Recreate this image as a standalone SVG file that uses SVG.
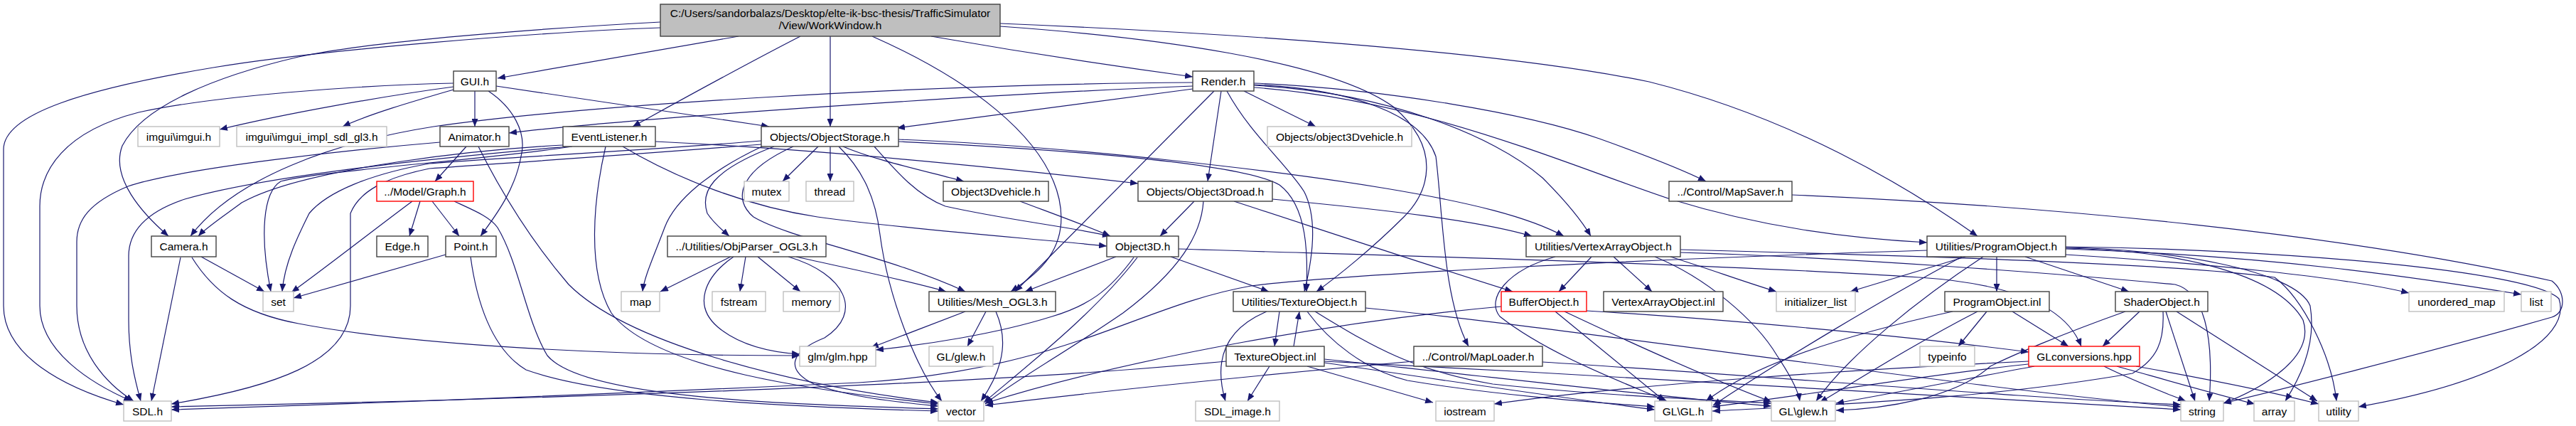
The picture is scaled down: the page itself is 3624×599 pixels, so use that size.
<svg xmlns="http://www.w3.org/2000/svg" width="3624" height="599" viewBox="0 0 3624 599">
<style>
.n rect{fill:#fff;stroke:#404040;stroke-width:1.4}
.x rect{fill:#fff;stroke:#bfbfbf;stroke-width:1.4}
.r rect{fill:#fff;stroke:#ff0000;stroke-width:1.4}
.rt rect{fill:#bfbfbf;stroke:#404040;stroke-width:1.4}
text{font-family:"Liberation Sans",Arial,Helvetica,sans-serif;font-size:15.5px;fill:#000;text-anchor:middle}
#edges path{fill:none;stroke:#191970;stroke-width:1.2;marker-end:url(#a)}
</style>
<defs>
<marker id="a" markerWidth="11" markerHeight="9" refX="11" refY="4.5" orient="auto" markerUnits="userSpaceOnUse"><path d="M0,0 L11,4.5 L0,9 z" fill="#191970"/></marker>
</defs>
<rect width="3624" height="599" fill="#fff"/>
<g id="edges">
<path d="M1039,51 C900,75 780,95 700,110"/>
<path d="M1310,51 C1430,72 1560,92 1678,108"/>
<path d="M1126,51 C1040,95 950,145 890,178"/>
<path d="M1168,51 L1168,178"/>
<path d="M929,31 C760,40 520,58 420,80 C300,108 200,150 172,205 C155,250 200,300 237,332"/>
<path d="M929,39 C760,45 450,70 300,95 C120,125 5,160 5,210 L5,430 C5,500 90,545 174,569"/>
<path d="M1227,51 C1360,110 1470,190 1490,280 C1505,350 1460,385 1422,410"/>
<path d="M1407,37 C1620,52 1870,85 1960,150 C2030,210 2010,270 1975,305 C1930,350 1880,390 1852,410"/>
<path d="M1407,33 C1700,45 2100,70 2320,115 C2520,165 2680,260 2782,332"/>
<path d="M638,122 C540,135 400,160 309,182"/>
<path d="M638,126 C590,140 520,160 482,178"/>
<path d="M668,128 L668,178"/>
<path d="M698,121 L1082,178"/>
<path d="M638,117 C500,120 300,135 195,158 C90,185 56,240 56,290 L56,430 C56,495 130,540 185,564"/>
<path d="M687,128 C720,150 742,185 733,220 C725,265 700,300 676,332"/>
<path d="M1678,125 L1262,180"/>
<path d="M1678,121 C1400,132 900,165 716,187"/>
<path d="M1678,116 C1300,118 820,148 610,178 C470,200 330,250 268,332"/>
<path d="M1750,128 L1851,178"/>
<path d="M1764,117 C1950,125 2150,160 2250,195 C2320,220 2370,240 2400,255"/>
<path d="M1708,128 L1428,410"/>
<path d="M1718,128 L1699,255"/>
<path d="M1764,120 C1950,130 2100,190 2170,250 C2200,280 2225,310 2238,332"/>
<path d="M1764,123 C2000,140 2200,230 2350,280 C2480,320 2600,335 2711,341"/>
<path d="M1726,128 C1760,190 1810,230 1835,270 C1855,310 1845,370 1835,410"/>
<path d="M1764,119 C1900,125 2000,160 2020,220 C2030,300 2030,420 2066,487"/>
<path d="M1151,206 L1101,255"/>
<path d="M1168,206 L1168,255"/>
<path d="M1186,206 C1230,225 1300,240 1356,255"/>
<path d="M1089,206 C1000,240 985,270 995,300 C1005,315 1018,325 1026,332"/>
<path d="M1072,206 C1000,240 950,280 935,320 C920,360 906,390 904,410"/>
<path d="M1116,206 C1040,240 1030,280 1060,305 C1110,335 1250,360 1358,410"/>
<path d="M1071,198 C900,212 700,222 604,230 C520,245 460,270 435,300 C420,330 400,370 397,410"/>
<path d="M1071,203 C900,217 700,230 604,237 C540,250 505,270 493,300 L493,430 C493,510 380,545 241,568"/>
<path d="M1180,206 C1215,240 1232,280 1238,330 C1250,420 1290,520 1325,564"/>
<path d="M1230,206 C1260,240 1290,275 1330,290 C1420,310 1500,318 1562,332"/>
<path d="M1264,199 C1500,210 1750,230 1800,260 C1840,290 1840,360 1838,410"/>
<path d="M1264,196 C1500,205 1800,240 1950,265 C2070,285 2150,305 2200,332"/>
<path d="M792,204 C680,210 430,235 340,285 C320,300 290,320 279,332"/>
<path d="M800,206 C700,215 400,240 260,280 C200,300 181,330 181,360 L181,450 C181,500 190,535 198,564"/>
<path d="M805,206 C680,225 450,240 395,255 C370,270 365,330 381,410"/>
<path d="M852,206 C835,280 825,380 860,440 C920,520 1150,550 1320,568"/>
<path d="M876,206 C950,250 1050,290 1150,305 C1300,325 1450,335 1557,346"/>
<path d="M922,199 C1150,210 1400,235 1601,258"/>
<path d="M656,206 L612,255"/>
<path d="M673,206 C700,260 740,330 800,400 C880,480 1100,540 1320,566"/>
<path d="M619,200 C500,210 260,235 180,262 C125,285 108,310 108,340 L108,430 C108,495 150,540 188,564"/>
<path d="M591,283 L576,332"/>
<path d="M608,283 L646,332"/>
<path d="M580,283 C530,320 460,375 410,411"/>
<path d="M639,283 C665,295 690,305 700,320 C730,370 740,450 770,500 C820,560 1100,568 1320,575"/>
<path d="M627,358 L413,419"/>
<path d="M662,361 C670,420 690,490 740,520 C850,560 1100,572 1320,578"/>
<path d="M283,361 L372,410"/>
<path d="M254,362 L213,564"/>
<path d="M270,362 C300,410 340,440 420,455 C550,480 800,500 1125,500"/>
<path d="M1028,361 L929,410"/>
<path d="M1049,361 L1041,410"/>
<path d="M1066,361 L1126,410"/>
<path d="M1032,361 C990,390 975,430 1010,460 C1040,485 1080,495 1125,498"/>
<path d="M1109,361 C1190,385 1215,440 1160,475 C1110,495 1105,520 1145,540 C1200,560 1270,566 1320,571"/>
<path d="M1120,361 C1180,375 1260,390 1331,410"/>
<path d="M1358,438 L1225,489"/>
<path d="M1387,438 L1361,487"/>
<path d="M1401,438 C1415,470 1418,510 1380,564"/>
<path d="M1570,361 L1442,410"/>
<path d="M1647,361 L1785,410"/>
<path d="M1595,362 C1560,410 1530,430 1480,445 C1400,470 1300,485 1232,492"/>
<path d="M1600,362 C1540,440 1450,510 1384,566"/>
<path d="M1658,350 C1900,358 2400,370 2700,390 C2850,400 2910,440 2928,487"/>
<path d="M1435,283 C1480,300 1530,318 1562,332"/>
<path d="M1680,283 L1632,332"/>
<path d="M1693,283 C1690,330 1660,380 1580,440 C1500,495 1420,540 1386,568"/>
<path d="M1790,280 C1950,295 2080,310 2155,332"/>
<path d="M1736,283 C1850,320 2000,370 2128,410"/>
<path d="M2239,361 L2193,410"/>
<path d="M2270,361 L2324,410"/>
<path d="M2188,361 C2120,380 2090,420 2110,445 C2180,500 2290,540 2345,564"/>
<path d="M2350,361 C2410,380 2450,395 2499,410"/>
<path d="M2328,361 C2400,390 2470,450 2500,500 C2520,530 2530,550 2532,564"/>
<path d="M2364,355 C2600,362 2900,385 3060,400 C3100,410 3115,470 3108,564"/>
<path d="M2364,351 C2700,360 3050,370 3200,390 C3240,420 3280,500 3287,564"/>
<path d="M2809,361 L2809,410"/>
<path d="M2849,361 L2995,410"/>
<path d="M2765,361 L2603,410"/>
<path d="M2790,361 C2700,420 2600,500 2555,564"/>
<path d="M2760,361 C2650,420 2500,510 2410,570"/>
<path d="M2906,358 C3100,370 3300,390 3389,412"/>
<path d="M2906,350 C3200,360 3400,390 3547,414"/>
<path d="M2906,347 C3200,350 3560,380 3600,420 C3620,480 3500,540 3318,572"/>
<path d="M2906,348 C3050,350 3230,380 3250,430 C3260,490 3230,540 3215,564"/>
<path d="M2906,349 C3050,352 3200,380 3240,450 C3260,510 3160,555 3128,567"/>
<path d="M2711,352 C2300,365 1900,385 1760,402 C1600,430 1500,520 1208,538 C900,552 600,565 241,576"/>
<path d="M2795,438 L2755,487"/>
<path d="M2831,438 L2910,487"/>
<path d="M2782,438 C2700,480 2620,530 2560,566"/>
<path d="M2747,438 C2600,470 2470,510 2400,564"/>
<path d="M3010,438 L2958,487"/>
<path d="M2990,438 C2900,470 2830,500 2800,515 C2750,560 2650,575 2583,577"/>
<path d="M3047,438 L3088,564"/>
<path d="M3062,438 L3260,564"/>
<path d="M3043,438 C3045,480 3035,505 3000,525 C2800,560 2600,568 2409,578"/>
<path d="M2862,515 C2780,530 2680,550 2583,567"/>
<path d="M2862,511 C2700,528 2550,555 2409,572"/>
<path d="M2960,515 C3000,535 3040,550 3075,564"/>
<path d="M2978,515 C3050,535 3120,555 3172,568"/>
<path d="M3005,515 C3100,532 3200,552 3262,568"/>
<path d="M2854,508 C2600,520 2300,540 2102,568"/>
<path d="M1800,438 L1793,487"/>
<path d="M1820,487 L1828,438"/>
<path d="M1782,438 C1730,460 1705,500 1724,564"/>
<path d="M1839,438 C1870,480 1920,520 1980,535 C2100,555 2230,565 2328,572"/>
<path d="M1850,438 C1920,480 1980,520 2100,540 C2250,556 2400,562 2492,567"/>
<path d="M1921,433 C2200,460 2800,550 3068,572"/>
<path d="M2112,431 C1900,450 1600,500 1386,567"/>
<path d="M2188,438 L2342,564"/>
<path d="M2201,438 C2290,480 2400,530 2492,565"/>
<path d="M2232,437 C2450,450 2700,475 2854,495"/>
<path d="M1786,515 L1755,564"/>
<path d="M1725,508 C1400,540 800,560 241,572"/>
<path d="M1839,515 L2016,566"/>
<path d="M1863,510 C2000,530 2200,560 2328,576"/>
<path d="M1863,505 C2100,530 2350,560 2492,571"/>
<path d="M1863,508 C2300,530 2800,560 3068,576"/>
<path d="M1989,508 C1800,525 1550,550 1386,570"/>
<path d="M2170,509 C2500,530 2850,560 3068,569"/>
<path d="M2521,274 C2900,290 3300,330 3590,395 C3610,410 3610,440 3590,446 C3400,500 3200,550 3128,567"/>
</g>
<g id="root" class="rt"><rect x="929" y="6" width="478" height="45"/><text x="1168" y="24">C:/Users/sandorbalazs/Desktop/elte-ik-bsc-thesis/TrafficSimulator</text><text x="1168" y="40.5">/View/WorkWindow.h</text></g>
<g id="gui" class="n"><rect x="638" y="100" width="60" height="28"/><text x="668" y="119.5">GUI.h</text></g>
<g id="render" class="n"><rect x="1678" y="100" width="86" height="28"/><text x="1721" y="119.5">Render.h</text></g>
<g id="imgui" class="x"><rect x="194" y="178" width="115" height="28"/><text x="251.5" y="197.5">imgui\imgui.h</text></g>
<g id="imgui_impl" class="x"><rect x="333" y="178" width="211" height="28"/><text x="438.5" y="197.5">imgui\imgui_impl_sdl_gl3.h</text></g>
<g id="animator" class="n"><rect x="619" y="178" width="97" height="28"/><text x="667.5" y="197.5">Animator.h</text></g>
<g id="eventlistener" class="n"><rect x="792" y="178" width="130" height="28"/><text x="857" y="197.5">EventListener.h</text></g>
<g id="objectstorage" class="n"><rect x="1071" y="178" width="193" height="28"/><text x="1167.5" y="197.5">Objects/ObjectStorage.h</text></g>
<g id="object3dvehicle_lc" class="x"><rect x="1783" y="178" width="203" height="28"/><text x="1884.5" y="197.5">Objects/object3Dvehicle.h</text></g>
<g id="graph" class="r"><rect x="530" y="255" width="136" height="28"/><text x="598" y="274.5">../Model/Graph.h</text></g>
<g id="mutex" class="x"><rect x="1047" y="255" width="63" height="28"/><text x="1078.5" y="274.5">mutex</text></g>
<g id="thread" class="x"><rect x="1134" y="255" width="67" height="28"/><text x="1167.5" y="274.5">thread</text></g>
<g id="object3dvehicle" class="n"><rect x="1327" y="255" width="148" height="28"/><text x="1401" y="274.5">Object3Dvehicle.h</text></g>
<g id="object3droad" class="n"><rect x="1601" y="255" width="189" height="28"/><text x="1695.5" y="274.5">Objects/Object3Droad.h</text></g>
<g id="mapsaver" class="n"><rect x="2348" y="255" width="173" height="28"/><text x="2434.5" y="274.5">../Control/MapSaver.h</text></g>
<g id="camera" class="n"><rect x="213" y="332" width="91" height="29"/><text x="258.5" y="352">Camera.h</text></g>
<g id="edge" class="n"><rect x="530" y="332" width="72" height="29"/><text x="566" y="352">Edge.h</text></g>
<g id="point" class="n"><rect x="627" y="332" width="71" height="29"/><text x="662.5" y="352">Point.h</text></g>
<g id="objparser" class="n"><rect x="939" y="332" width="223" height="29"/><text x="1050.5" y="352">../Utilities/ObjParser_OGL3.h</text></g>
<g id="object3d" class="n"><rect x="1557" y="332" width="101" height="29"/><text x="1607.5" y="352">Object3D.h</text></g>
<g id="vao" class="n"><rect x="2147" y="332" width="217" height="29"/><text x="2255.5" y="352">Utilities/VertexArrayObject.h</text></g>
<g id="programobject" class="n"><rect x="2711" y="332" width="195" height="29"/><text x="2808.5" y="352">Utilities/ProgramObject.h</text></g>
<g id="set" class="x"><rect x="370" y="410" width="43" height="28"/><text x="391.5" y="429.5">set</text></g>
<g id="map" class="x"><rect x="874" y="410" width="54" height="28"/><text x="901" y="429.5">map</text></g>
<g id="fstream" class="x"><rect x="1002" y="410" width="75" height="28"/><text x="1039.5" y="429.5">fstream</text></g>
<g id="memory" class="x"><rect x="1102" y="410" width="79" height="28"/><text x="1141.5" y="429.5">memory</text></g>
<g id="mesh" class="n"><rect x="1307" y="410" width="178" height="28"/><text x="1396" y="429.5">Utilities/Mesh_OGL3.h</text></g>
<g id="textureobject" class="n"><rect x="1735" y="410" width="186" height="28"/><text x="1828" y="429.5">Utilities/TextureObject.h</text></g>
<g id="bufferobject" class="r"><rect x="2112" y="410" width="120" height="28"/><text x="2172" y="429.5">BufferObject.h</text></g>
<g id="vao_inl" class="n"><rect x="2256" y="410" width="168" height="28"/><text x="2340" y="429.5">VertexArrayObject.inl</text></g>
<g id="initializer_list" class="x"><rect x="2499" y="410" width="111" height="28"/><text x="2554.5" y="429.5">initializer_list</text></g>
<g id="programobject_inl" class="n"><rect x="2736" y="410" width="147" height="28"/><text x="2809.5" y="429.5">ProgramObject.inl</text></g>
<g id="shaderobject" class="n"><rect x="2976" y="410" width="130" height="28"/><text x="3041" y="429.5">ShaderObject.h</text></g>
<g id="unordered_map" class="x"><rect x="3389" y="410" width="134" height="28"/><text x="3456" y="429.5">unordered_map</text></g>
<g id="list" class="x"><rect x="3547" y="410" width="42" height="28"/><text x="3568" y="429.5">list</text></g>
<g id="glm" class="x"><rect x="1125" y="487" width="107" height="28"/><text x="1178.5" y="506.5">glm/glm.hpp</text></g>
<g id="gl_glew_fwd" class="x"><rect x="1307" y="487" width="90" height="28"/><text x="1352" y="506.5">GL/glew.h</text></g>
<g id="textureobject_inl" class="n"><rect x="1725" y="487" width="138" height="28"/><text x="1794" y="506.5">TextureObject.inl</text></g>
<g id="maploader" class="n"><rect x="1989" y="487" width="181" height="28"/><text x="2079.5" y="506.5">../Control/MapLoader.h</text></g>
<g id="typeinfo" class="x"><rect x="2701" y="487" width="77" height="28"/><text x="2739.5" y="506.5">typeinfo</text></g>
<g id="glconversions" class="r"><rect x="2854" y="487" width="156" height="28"/><text x="2932" y="506.5">GLconversions.hpp</text></g>
<g id="sdl" class="x"><rect x="174" y="564" width="67" height="28"/><text x="207.5" y="583.5">SDL.h</text></g>
<g id="vector" class="x"><rect x="1320" y="564" width="64" height="28"/><text x="1352" y="583.5">vector</text></g>
<g id="sdl_image" class="x"><rect x="1682" y="564" width="118" height="28"/><text x="1741" y="583.5">SDL_image.h</text></g>
<g id="iostream" class="x"><rect x="2020" y="564" width="82" height="28"/><text x="2061" y="583.5">iostream</text></g>
<g id="gl_gl" class="x"><rect x="2328" y="564" width="80" height="28"/><text x="2368" y="583.5">GL\GL.h</text></g>
<g id="gl_glew" class="x"><rect x="2492" y="564" width="90" height="28"/><text x="2537" y="583.5">GL\glew.h</text></g>
<g id="string" class="x"><rect x="3068" y="564" width="60" height="28"/><text x="3098" y="583.5">string</text></g>
<g id="array" class="x"><rect x="3171" y="564" width="57" height="28"/><text x="3199.5" y="583.5">array</text></g>
<g id="utility" class="x"><rect x="3262" y="564" width="56" height="28"/><text x="3290" y="583.5">utility</text></g>
</svg>
